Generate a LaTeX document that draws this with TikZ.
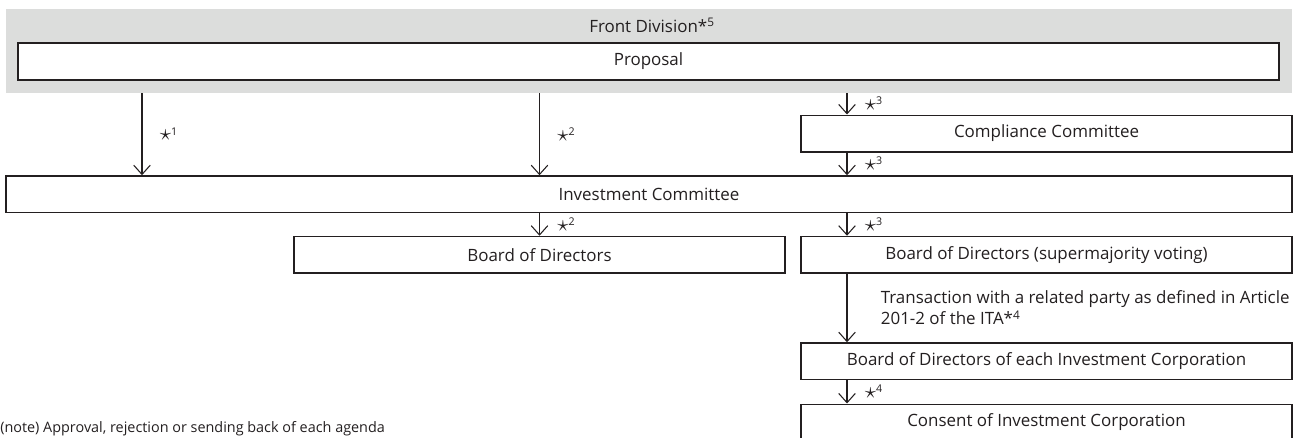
\documentclass[tikz,border=0pt]{standalone}
\usepackage{fontspec}
\setmainfont{Open Sans}
\usepackage{xcolor}
\usepackage{tikz}
\usetikzlibrary{arrows.meta,positioning}
\definecolor{ink}{HTML}{231F20}
\definecolor{bandgray}{HTML}{DCDDDC}
\newcommand\starnote[1]{{\fontsize{16}{16}\selectfont$\star$}\textsuperscript{#1}}

\begin{document}
\begin{tikzpicture}[x=0.75pt,y=-0.75pt,>={Straight Barb[length=7pt,width=12.5pt]},
  font=\fontsize{12.7}{15.8}\selectfont,text=ink,
  box/.style={draw=ink,line width=1.1pt,fill=white,inner sep=0pt,minimum width=368.25pt,minimum height=27.4pt},
  flow/.style={->,draw=ink,line width=0.8pt},
  tag/.style={right=13pt,inner sep=0pt,font=\fontsize{12}{13}\selectfont}]
\useasboundingbox (0,0) rectangle (1305,437);
\clip (0,0) rectangle (1305,437);
\node[fill=bandgray,inner sep=0pt,minimum width=964.5pt,minimum height=63pt] (band) at (649,51) {};
\node (bandtitle) at (652,25) {Front Division*\textsuperscript{5}};
\node[box,line width=1.3pt,minimum width=945.75pt,minimum height=27.75pt] (prop) at (648.5,61.5) {Proposal};
\node[box] (comp) at (1046.5,133.5) {Compliance Committee};
\node[box,minimum width=964.5pt] (invest) at (649,194.25) {Investment Committee};
\node[box] (bod) at (539.5,254.75) {Board of Directors};
\node[box] (bodsm) at (1046.5,254.75) {Board of Directors (supermajority voting)};
\node[box] (bodic) at (1046.5,361.25) {Board of Directors of each Investment Corporation};
\node[box] (consent) at (1046.5,422.5) {Consent of Investment Corporation};
\node[anchor=west,inner sep=0pt,font=\fontsize{10.8}{13}\selectfont] (note) at (0,429) {(note) Approval, rejection or sending back of each agenda};
\coordinate (xa) at (142,0);
\coordinate (xb) at (539.5,0);
\coordinate (xc) at (847,0);
\draw[flow] (band.south -| xa) -- node[tag]{\starnote{1}} (invest.north -| xa);
\draw[flow] (band.south -| xb) -- node[tag]{\starnote{2}} (invest.north -| xb);
\draw[flow] (band.south -| xc) -- node[tag]{\starnote{3}} (comp.north -| xc);
\draw[flow] (comp.south -| xc) -- node[tag]{\starnote{3}} (invest.north -| xc);
\draw[flow] (invest.south -| xb) -- node[tag]{\starnote{2}} (bod.north);
\draw[flow] (invest.south -| xc) -- node[tag]{\starnote{3}} (bodsm.north -| xc);
\draw[flow] (bodsm.south -| xc) -- node[tag,right=25pt,align=left,font=\fontsize{12.7}{15.8}\selectfont]{Transaction with a related party as defined in Article\\201-2 of the ITA*\textsuperscript{4}} (bodic.north -| xc);
\draw[flow] (bodic.south -| xc) -- node[tag]{\starnote{4}} (consent.north -| xc);
\end{tikzpicture}
\end{document}
